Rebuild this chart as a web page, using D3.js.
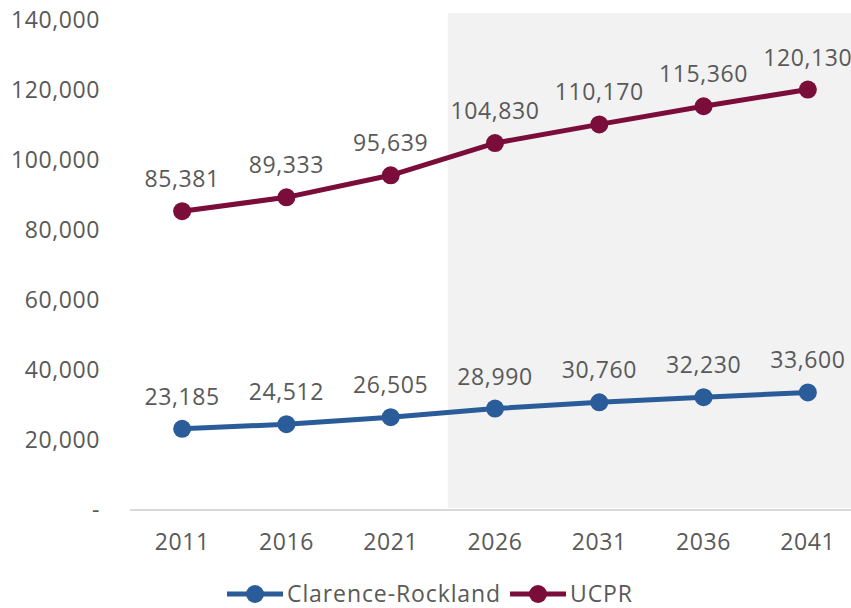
<!DOCTYPE html>
<html>
<head>
<meta charset="utf-8">
<script src="https://cdn.jsdelivr.net/npm/d3@7"></script>
<style>
  body { margin: 0; background: #fff; }
  text { font-family: "Open Sans", sans-serif; fill: #595959; }
</style>
</head>
<body>
<div id="chart"></div>
<script>
// data
const years = ['2011', '2016', '2021', '2026', '2031', '2036', '2041'];
const clarence = [23185, 24512, 26505, 28990, 30760, 32230, 33600];
const ucpr = [85381, 89333, 95639, 104830, 110170, 115360, 120130];
const yTicks = [0, 20000, 40000, 60000, 80000, 100000, 120000, 140000];
const projectedFrom = '2026';

const W = 851, H = 608;
const fs = 23, ls = '0.6px';

const series = [
    { name: 'Clarence-Rockland', values: clarence, colour: '#2B5C9A' },
    { name: 'UCPR', values: ucpr, colour: '#7B0D3A' }
];

const svg = d3.select('#chart').append('svg')
    .attr('width', W)
    .attr('height', H);

// scales
const x = d3.scaleBand()
    .domain(years)
    .range([130, 860]);
const y = d3.scaleLinear()
    .domain([0, 140000])
    .range([510, 20]);

const fmt = d3.format(',');

// shaded projection area
svg.append('rect')
    .attr('x', x(projectedFrom) + 5)
    .attr('y', 13)
    .attr('width', W - x(projectedFrom))
    .attr('height', y(0) - 15)
    .attr('fill', '#f2f2f2');

// y axis labels (no line)
const yAxis = d3.axisLeft(y)
    .tickValues(yTicks)
    .tickSize(0)
    .tickPadding(0)
    .tickFormat(d => d === 0 ? '-' : fmt(d));
svg.append('g')
    .attr('transform', 'translate(100,0)')
    .call(yAxis)
    .call(g => g.select('.domain').remove())
    .selectAll('text')
        .attr('font-size', fs)
        .style('font-family', '"Open Sans", sans-serif')
        .style('letter-spacing', ls)
        .attr('fill', '#595959');

// x axis
const xAxis = d3.axisBottom(x).tickSize(0).tickPadding(24);
svg.append('g')
    .attr('transform', `translate(0,${y(0)})`)
    .call(xAxis)
    .call(g => g.select('.domain')
        .attr('d', `M130,0H${W}`)
        .attr('stroke', '#d9d9d9')
        .attr('stroke-width', 2))
    .selectAll('text')
        .attr('font-size', fs)
        .style('font-family', '"Open Sans", sans-serif')
        .style('letter-spacing', ls)
        .attr('fill', '#595959');

// lines, markers, labels
const line = d3.line()
    .x((d, i) => x(years[i]) + x.bandwidth() / 2)
    .y(d => y(d));

series.forEach(s => {
    const g = svg.append('g');
    g.append('path')
        .attr('d', line(s.values))
        .attr('fill', 'none')
        .attr('stroke', s.colour)
        .attr('stroke-width', 5)
        .attr('stroke-linejoin', 'round');
    g.selectAll('circle')
        .data(s.values)
        .enter()
        .append('circle')
            .attr('cx', (d, i) => x(years[i]) + x.bandwidth() / 2)
            .attr('cy', d => y(d))
            .attr('r', 9)
            .attr('fill', s.colour);
    g.selectAll('text')
        .data(s.values)
        .enter()
        .append('text')
            .attr('x', (d, i) => x(years[i]) + x.bandwidth() / 2)
            .attr('y', d => y(d) - 24)
            .attr('text-anchor', 'middle')
            .attr('font-size', fs)
            .style('letter-spacing', ls)
            .text(d => fmt(d));
});

// legend
const legend = svg.append('g')
    .attr('transform', 'translate(227,594)');
let lx = 0;
series.forEach(s => {
    const item = legend.append('g').attr('transform', `translate(${lx},0)`);
    item.append('line')
        .attr('x1', 0).attr('x2', 56)
        .attr('stroke', s.colour)
        .attr('stroke-width', 5);
    item.append('circle')
        .attr('cx', 28).attr('r', 9)
        .attr('fill', s.colour);
    const t = item.append('text')
        .attr('x', 60)
        .attr('dy', '0.35em')
        .attr('font-size', fs)
        .style('letter-spacing', '0.9px')
        .text(s.name);
    lx += 60 + t.node().getComputedTextLength() + 9;
});
</script>
</body>
</html>
